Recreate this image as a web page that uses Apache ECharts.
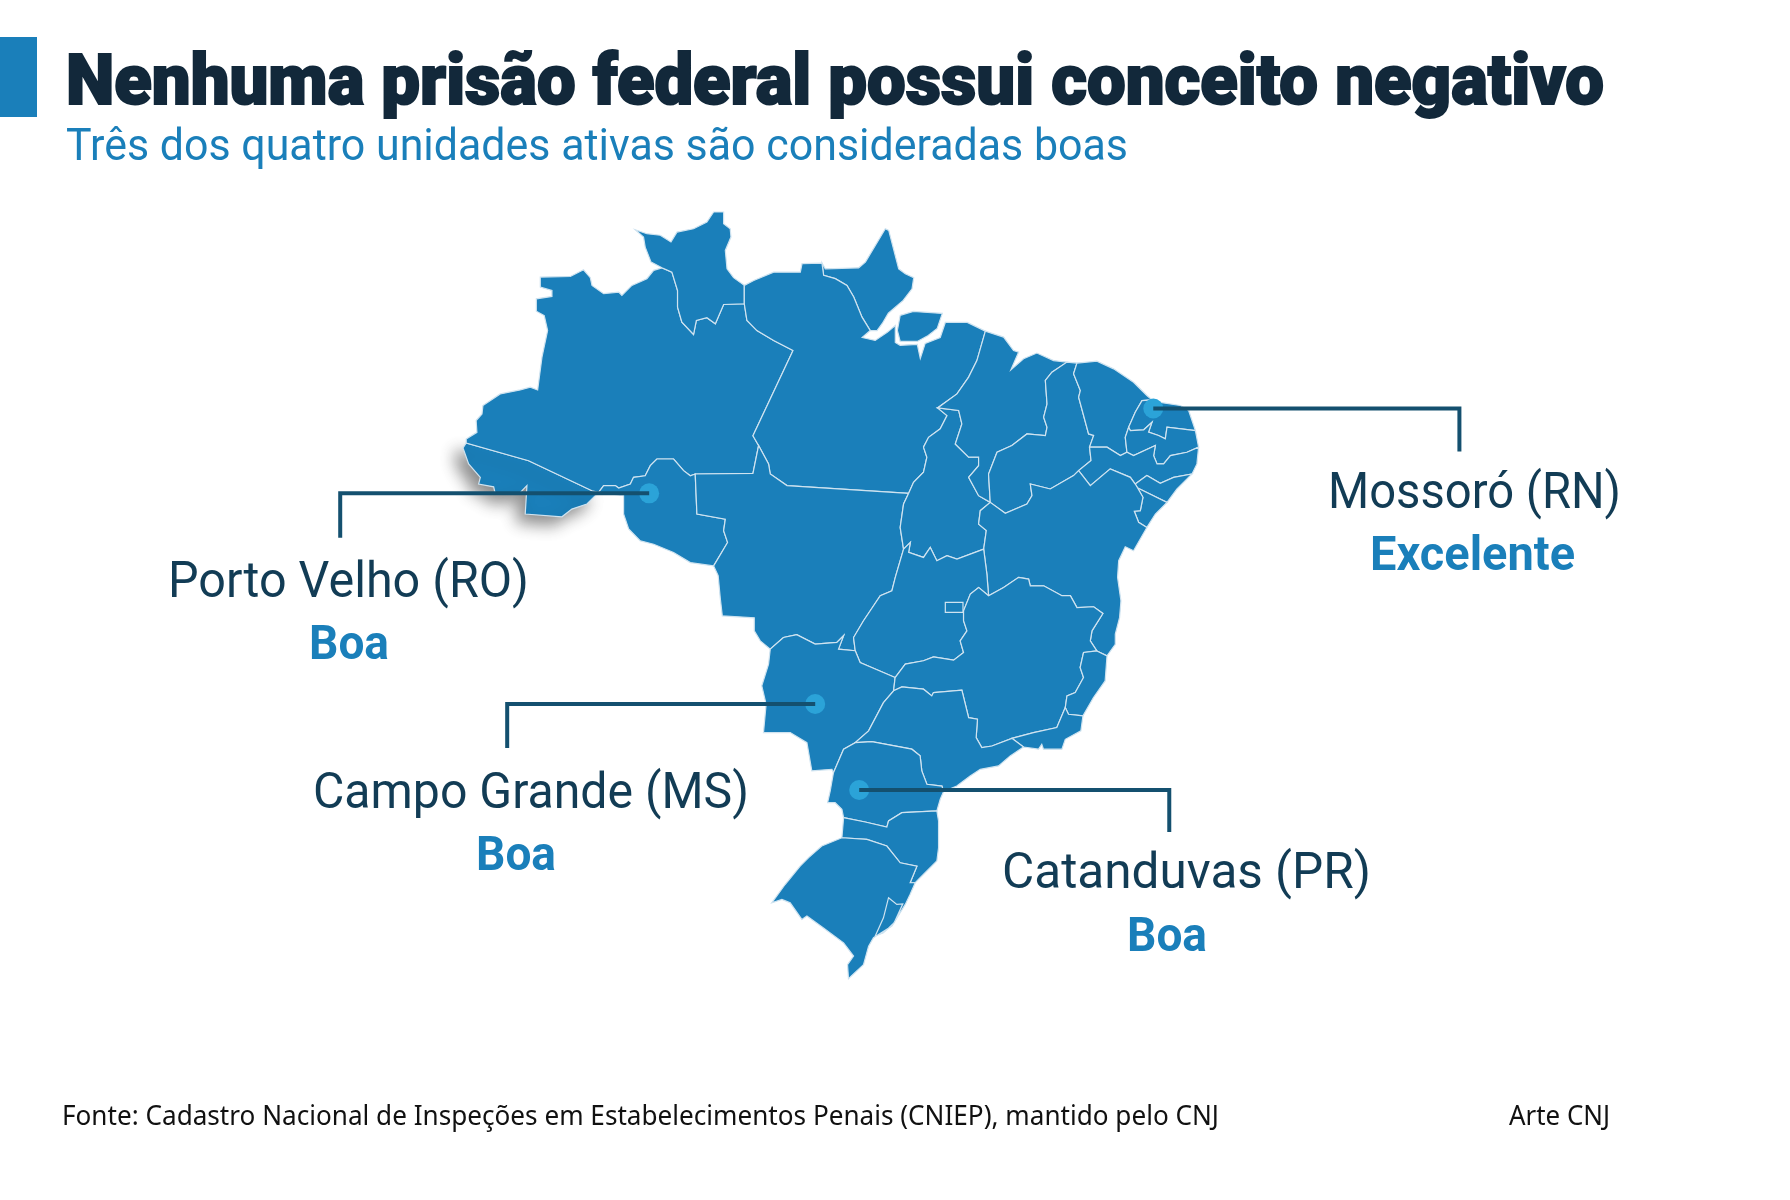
<!DOCTYPE html>
<html>
<head>
<meta charset="utf-8">
<title>Nenhuma prisão federal possui conceito negativo</title>
<script src="https://cdn.jsdelivr.net/npm/echarts@6/dist/echarts.min.js"></script>
<style>
html, body { margin: 0; padding: 0; background: #fff; }
#chart { width: 1790px; height: 1200px; }
</style>
</head>
<body>
<div id="chart"></div>
<script>
// texts
const titleText = 'Nenhuma prisão federal possui conceito negativo';
const subtitleText = 'Três dos quatro unidades ativas são consideradas boas';
const sourceText = 'Fonte: Cadastro Nacional de Inspeções em Estabelecimentos Penais (CNIEP), mantido pelo CNJ';
const creditText = 'Arte CNJ';

// the four prisons
const prisonNames = ['Porto Velho (RO)', 'Campo Grande (MS)', 'Catanduvas (PR)', 'Mossoró (RN)'];
const prisonRatings = ['Boa', 'Boa', 'Boa', 'Excelente'];
const prisonCoords = [[-64.11, -9.13], [-55.28, -19.81], [-52.94, -24.17], [-37.30, -4.83]];
const elbowLons = [-80.54, -71.66, -36.45, -21.02];
const lineEndLats = [-11.38, -22.04, -26.30, -7.01];

// shared borders, lon/lat, so neighbouring states use the same line
const borders = {
  acAm: [[-73.84,-6.58],[-70.52,-7.48],[-67.15,-9.00],[-66.80,-9.08]],
  acFront: [[-73.84,-6.58],[-74.01,-6.83],[-73.71,-7.64],[-73.09,-8.32],[-73.18,-8.66],[-72.38,-8.80],[-72.29,-9.17],[-71.05,-9.17],[-70.61,-8.74],[-70.70,-10.18],[-68.75,-10.32],[-68.22,-9.93],[-67.42,-9.67],[-66.80,-9.08]],
  amNorth: [[-73.84,-6.58],[-73.84,-6.38],[-73.27,-6.04],[-73.31,-5.44],[-73.00,-5.11],[-72.95,-4.68],[-72.03,-4.09],[-70.97,-3.89],[-70.43,-3.75],[-70.04,-3.89],[-69.81,-2.23],[-69.51,-0.88],[-69.69,-0.12],[-70.11,0.10],[-70.11,0.73],[-69.28,0.85],[-69.28,1.15],[-69.90,1.32],[-69.90,1.83],[-68.30,1.86],[-67.60,2.20],[-67.24,1.80],[-67.15,1.41],[-66.53,0.99],[-65.73,1.07],[-65.56,0.90],[-65.03,1.41],[-64.23,1.75],[-63.87,2.17],[-63.43,2.30]],
  amRo: [[-66.80,-9.08],[-66.53,-8.74],[-65.91,-8.74],[-65.73,-8.86],[-65.11,-8.66],[-64.94,-8.32],[-64.32,-8.24],[-64.05,-7.73],[-63.70,-7.39],[-62.81,-7.39],[-62.28,-7.98],[-61.92,-8.24],[-61.66,-8.15]],
  roFront: [[-66.80,-9.08],[-65.47,-9.25],[-65.47,-10.18],[-65.20,-10.94],[-64.58,-11.54],[-63.87,-11.71],[-62.81,-12.13],[-61.92,-12.64],[-60.68,-12.81]],
  roMt: [[-61.66,-8.15],[-61.57,-10.18],[-60.06,-10.44],[-60.15,-11.03],[-59.94,-11.62],[-60.68,-12.81]],
  amMt: [[-61.66,-8.15],[-58.59,-8.12],[-58.29,-6.71]],
  amPa: [[-58.29,-6.71],[-58.59,-6.21],[-56.46,-1.89],[-57.49,-1.38],[-58.38,-0.88],[-58.91,-0.37],[-59.05,0.48]],
  amRr: [[-59.05,0.48],[-60.15,0.44],[-60.59,-0.54],[-61.04,-0.23],[-61.60,-0.37],[-61.75,-1.08],[-62.37,-0.45],[-62.60,0.31],[-62.60,1.15],[-62.90,2.08],[-63.43,2.30]],
  rrFront: [[-63.43,2.30],[-64.01,2.59],[-64.32,3.35],[-64.41,3.86],[-64.85,4.23],[-64.23,4.03],[-63.52,3.95],[-62.95,3.61],[-62.63,4.11],[-61.75,4.28],[-61.04,4.62],[-60.68,5.13],[-60.15,5.13],[-60.15,4.54],[-59.80,4.28],[-59.76,3.86],[-60.06,3.18],[-59.97,2.25],[-59.62,1.80],[-59.05,1.41]],
  rrPa: [[-59.05,1.41],[-59.05,0.48]],
  paNorth: [[-59.05,1.41],[-58.55,1.66],[-57.49,2.08],[-56.07,2.08],[-55.98,2.51],[-54.92,2.54]],
  apPa: [[-54.92,2.54],[-54.83,1.92],[-54.21,1.75],[-53.59,1.41],[-53.23,0.82],[-52.79,-0.20],[-52.35,-0.88]],
  apFront: [[-54.92,2.54],[-54.74,2.25],[-52.97,2.30],[-52.61,2.59],[-51.55,4.28],[-51.37,4.20],[-50.84,2.25],[-50.49,2.00],[-50.04,1.80],[-50.13,1.24],[-50.60,0.65],[-51.39,0.00],[-51.71,-0.52],[-51.99,-0.88],[-52.35,-0.88]],
  paCoast: [[-52.35,-0.88],[-52.78,-1.23],[-52.09,-1.38],[-51.45,-0.97],[-51.02,-0.62],[-51.02,-1.48],[-50.76,-1.63],[-49.85,-1.58],[-49.69,-2.29],[-49.43,-1.53],[-48.63,-1.23],[-48.36,-0.47],[-48.10,-0.47],[-47.19,-0.47],[-46.23,-0.91]],
  paMa: [[-46.23,-0.91],[-46.68,-2.40],[-47.12,-3.24],[-47.74,-4.09],[-48.77,-4.80]],
  paTo: [[-48.77,-4.80],[-48.27,-5.19],[-48.63,-5.86],[-49.25,-6.29],[-49.52,-6.79],[-49.34,-7.30],[-49.52,-8.06],[-50.05,-8.57],[-50.31,-9.13]],
  paMt: [[-58.29,-6.71],[-57.76,-7.64],[-57.67,-8.15],[-56.78,-8.74],[-50.31,-9.13]],
  mtTo: [[-50.31,-9.13],[-50.58,-9.67],[-50.76,-10.86],[-50.58,-11.96]],
  mtGo: [[-50.58,-11.96],[-51.02,-13.39],[-51.20,-14.07],[-51.82,-14.32],[-52.71,-15.59],[-53.24,-16.44],[-53.15,-17.11]],
  mtMs: [[-53.15,-17.11],[-54.04,-17.03],[-53.77,-16.35],[-54.13,-16.69],[-55.28,-16.77],[-56.26,-16.30],[-56.97,-16.44],[-57.67,-17.03]],
  mtFront: [[-60.68,-12.81],[-60.44,-13.31],[-60.33,-14.43],[-60.22,-15.34],[-58.52,-15.44],[-58.52,-16.10],[-58.20,-16.61],[-57.67,-17.03]],
  msFront: [[-57.67,-17.03],[-57.76,-17.79],[-58.12,-18.89],[-57.89,-19.82],[-58.03,-21.26],[-56.61,-21.26],[-55.72,-21.77],[-55.46,-23.20],[-54.39,-23.12],[-54.31,-23.29]],
  msPr: [[-54.31,-23.29],[-53.77,-22.10],[-53.15,-21.77]],
  msSp: [[-53.15,-21.77],[-52.44,-21.17],[-51.65,-19.74],[-51.11,-19.14]],
  msMg: [[-51.11,-19.14],[-51.03,-18.47]],
  msGo: [[-53.15,-17.11],[-52.89,-17.71],[-51.03,-18.47]],
  goMg: [[-51.03,-18.47],[-50.49,-17.79],[-49.52,-17.62],[-48.99,-17.42],[-47.92,-17.59],[-47.39,-17.20],[-47.57,-16.61],[-47.21,-16.10],[-47.39,-15.59],[-47.39,-15.09],[-47.03,-14.24],[-46.59,-13.90],[-46.06,-14.32]],
  goBa: [[-46.06,-14.32],[-46.15,-13.22],[-46.32,-11.96]],
  toGo: [[-50.58,-11.96],[-50.22,-11.62],[-50.31,-12.12],[-49.52,-12.38],[-49.16,-11.87],[-48.81,-12.55],[-48.27,-12.29],[-47.74,-12.46],[-46.32,-11.96]],
  toBa: [[-46.32,-11.96],[-46.18,-11.02],[-46.59,-10.69],[-46.50,-10.01],[-45.97,-9.59]],
  toMa: [[-45.97,-9.59],[-46.59,-9.25],[-47.12,-8.32],[-46.59,-7.73],[-46.59,-7.30],[-47.12,-7.30],[-47.83,-6.63],[-47.48,-5.61],[-47.65,-4.93],[-48.77,-4.80]],
  maCoast: [[-46.23,-0.91],[-45.26,-1.21],[-44.73,-1.89],[-44.46,-1.97],[-44.87,-2.87],[-44.20,-2.31],[-43.49,-2.02],[-42.60,-2.40],[-41.89,-2.48]],
  maPi: [[-45.97,-9.59],[-46.06,-8.15],[-45.61,-7.05],[-44.82,-6.71],[-44.02,-6.12],[-43.04,-6.20],[-42.95,-5.78],[-43.13,-5.27],[-42.95,-4.60],[-43.04,-3.41],[-42.69,-2.99],[-41.89,-2.48]],
  piCoast: [[-41.89,-2.48],[-41.36,-2.53]],
  piCe: [[-41.36,-2.53],[-41.54,-3.07],[-41.18,-3.92],[-41.27,-4.26],[-40.74,-6.12],[-40.47,-6.20],[-40.69,-6.79]],
  piPe: [[-40.69,-6.79],[-40.61,-7.47],[-41.27,-7.98]],
  piBa: [[-45.97,-9.59],[-45.17,-10.14],[-44.02,-9.67],[-43.75,-9.25],[-43.84,-8.66],[-42.78,-8.91],[-41.54,-8.23],[-41.27,-7.98]],
  cePe: [[-40.69,-6.79],[-39.76,-6.79],[-39.05,-7.22],[-38.70,-7.05]],
  cePb: [[-38.70,-7.05],[-38.79,-6.29],[-38.61,-5.78]],
  ceRn: [[-38.61,-5.78],[-38.26,-5.02],[-37.90,-4.43],[-37.37,-4.39]],
  ceCoast: [[-41.36,-2.53],[-40.30,-2.43],[-39.41,-2.82],[-38.35,-3.50],[-37.64,-4.17],[-37.37,-4.39]],
  rnPb: [[-38.61,-5.78],[-38.52,-5.95],[-37.81,-5.91],[-37.37,-5.53],[-37.55,-6.03],[-37.02,-6.20],[-36.66,-6.37],[-36.57,-5.78],[-35.06,-5.95]],
  rnCoast: [[-37.37,-4.39],[-37.01,-4.51],[-35.86,-4.68],[-35.42,-4.93],[-35.06,-5.95]],
  pbCoast: [[-35.06,-5.95],[-34.89,-6.79]],
  pbPe: [[-38.70,-7.05],[-38.35,-7.22],[-37.19,-6.71],[-37.28,-7.22],[-37.10,-7.64],[-36.75,-7.64],[-36.39,-7.22],[-35.51,-7.05],[-34.89,-6.79]],
  peCoast: [[-34.89,-6.79],[-34.98,-7.64],[-35.24,-8.15]],
  peAl: [[-38.26,-8.66],[-37.64,-8.23],[-36.93,-8.62],[-36.22,-8.32],[-35.24,-8.15]],
  peBa: [[-41.27,-7.98],[-40.65,-8.74],[-39.59,-7.89],[-38.52,-8.32],[-38.26,-8.66]],
  alCoast: [[-35.24,-8.15],[-36.04,-8.91],[-36.57,-9.59]],
  alBa: [[-38.26,-8.66],[-38.13,-8.86]],
  alSe: [[-38.13,-8.86],[-36.57,-9.59]],
  baSe: [[-38.13,-8.86],[-37.85,-9.33],[-37.99,-10.01],[-38.31,-10.04],[-38.08,-10.60],[-37.64,-10.86]],
  seCoast: [[-36.57,-9.59],[-37.19,-10.18],[-37.64,-10.86]],
  baCoast: [[-37.64,-10.86],[-38.35,-12.04],[-38.79,-11.84],[-39.14,-12.55],[-39.20,-13.39],[-39.02,-14.58],[-39.09,-15.42],[-39.32,-16.27],[-39.32,-16.78],[-39.76,-17.37]],
  mgBa: [[-46.06,-14.32],[-45.26,-13.90],[-44.46,-13.39],[-43.93,-13.48],[-43.84,-13.82],[-43.13,-13.82],[-42.16,-14.32],[-41.71,-14.32],[-41.36,-14.92],[-40.47,-14.88],[-39.98,-15.22],[-40.56,-16.10],[-40.65,-16.61],[-40.30,-17.12]],
  baEs: [[-40.30,-17.12],[-39.76,-17.37]],
  esMg: [[-40.30,-17.12],[-41.01,-17.20],[-41.19,-17.96],[-41.01,-18.47],[-41.45,-19.23],[-41.89,-19.40],[-41.98,-19.99]],
  esCoast: [[-39.76,-17.37],[-39.86,-18.64],[-40.48,-19.48],[-41.04,-20.41]],
  esRj: [[-41.98,-19.99],[-41.81,-20.33],[-41.04,-20.41]],
  rjCoast: [[-41.04,-20.41],[-41.15,-21.17],[-41.98,-21.60],[-42.16,-22.10],[-43.14,-22.10],[-43.23,-21.85],[-43.40,-22.10],[-44.20,-21.99]],
  mgRj: [[-41.98,-19.99],[-42.43,-21.00],[-43.67,-21.26],[-44.82,-21.55]],
  rjSp: [[-44.82,-21.55],[-44.20,-21.99]],
  mgSp: [[-51.11,-19.14],[-50.67,-18.94],[-49.52,-19.06],[-49.08,-19.40],[-48.99,-19.23],[-47.48,-19.11],[-47.12,-20.50],[-46.65,-20.58],[-46.72,-21.51],[-46.42,-22.02],[-45.88,-21.94],[-44.82,-21.55]],
  spPr: [[-53.15,-21.77],[-52.27,-21.72],[-50.14,-22.10],[-49.70,-22.44],[-49.61,-23.20],[-49.34,-23.88],[-48.54,-23.97],[-48.45,-24.25]],
  spCoast: [[-44.20,-21.99],[-44.91,-22.44],[-45.53,-22.95],[-46.50,-23.12],[-47.04,-23.46],[-47.75,-23.97],[-48.45,-24.25]],
  prCoast: [[-48.45,-24.25],[-48.63,-24.64],[-48.81,-25.23]],
  prSc: [[-53.77,-25.57],[-52.62,-25.79],[-51.47,-26.05],[-51.38,-25.74],[-50.67,-25.32],[-48.81,-25.23]],
  prWest: [[-54.31,-23.29],[-54.48,-24.22],[-54.62,-24.81],[-54.22,-24.81],[-53.86,-25.15],[-53.77,-25.57]],
  scWest: [[-53.77,-25.57],[-53.86,-26.59]],
  scCoast: [[-48.81,-25.23],[-48.72,-25.74],[-48.72,-27.10],[-48.81,-27.77],[-49.70,-28.62],[-49.96,-28.87]],
  scRs: [[-53.86,-26.59],[-52.53,-26.67],[-51.47,-27.01],[-50.76,-27.86],[-49.87,-28.03],[-50.23,-28.87],[-49.96,-28.87]],
  rsCoast: [[-49.96,-28.87],[-50.23,-29.46],[-50.49,-29.97],[-51.20,-31.07],[-52.18,-31.66],[-52.44,-32.09],[-52.71,-33.02],[-53.51,-33.73],[-53.56,-33.02],[-53.24,-32.59],[-53.77,-31.92],[-54.84,-31.16],[-55.72,-30.56],[-55.99,-30.73],[-56.61,-29.89],[-57.05,-29.72],[-57.59,-29.89],[-56.88,-28.96],[-56.08,-28.03],[-55.63,-27.60],[-54.93,-27.01],[-53.86,-26.59]]
};

// a leading minus walks the border backwards
const states = {
  AC: ['acAm', '-acFront'],
  AM: ['amNorth', '-amRr', '-amPa', '-amMt', '-amRo', '-acAm'],
  RO: ['amRo', 'roMt', '-roFront'],
  RR: ['rrFront', 'rrPa', 'amRr'],
  AP: ['apFront', '-apPa'],
  PA: ['paNorth', 'apPa', 'paCoast', 'paMa', 'paTo', '-paMt', 'amPa', '-rrPa'],
  MT: ['amMt', 'paMt', 'mtTo', 'mtGo', 'mtMs', '-mtFront', '-roMt'],
  TO: ['-paTo', '-toMa', '-toBa', '-toGo', '-mtTo'],
  MA: ['maCoast', '-maPi', 'toMa', '-paMa'],
  PI: ['piCoast', 'piCe', 'piPe', '-piBa', 'maPi'],
  CE: ['ceCoast', '-ceRn', '-cePb', '-cePe', '-piCe'],
  RN: ['rnCoast', '-rnPb', 'ceRn'],
  PB: ['rnPb', 'pbCoast', '-pbPe', 'cePb'],
  PE: ['cePe', 'pbPe', 'peCoast', '-peAl', '-peBa', '-piPe'],
  AL: ['peAl', 'alCoast', '-alSe', '-alBa'],
  SE: ['alSe', 'seCoast', '-baSe'],
  BA: ['piBa', 'peBa', 'alBa', 'baSe', 'baCoast', '-baEs', '-mgBa', 'goBa', 'toBa'],
  GO: ['toGo', '-goBa', '-goMg', '-msGo', '-mtGo'],
  MS: ['msGo', '-msMg', '-msSp', '-msPr', '-msFront', '-mtMs'],
  MG: ['goMg', 'mgBa', 'esMg', 'mgRj', '-mgSp', 'msMg'],
  ES: ['baEs', 'esCoast', '-esRj', '-esMg'],
  RJ: ['esRj', 'rjCoast', '-rjSp', '-mgRj'],
  SP: ['mgSp', 'rjSp', 'spCoast', '-spPr', 'msSp'],
  PR: ['spPr', 'prCoast', '-prSc', '-prWest', 'msPr'],
  SC: ['prSc', 'scCoast', '-scRs', '-scWest'],
  RS: ['scRs', 'rsCoast']
};
const marajo = [[-50.76,-0.11],[-50.06,0.09],[-48.52,-0.01],[-48.79,-0.77],[-49.27,-1.13],[-49.85,-1.43],[-50.76,-1.43],[-50.91,-0.87],[-50.76,-0.11]];
const lagoaDosPatos = [[-51.38,-29.63],[-50.94,-29.97],[-50.62,-29.94],[-51.08,-30.90],[-51.65,-31.41],[-52.09,-31.58],[-51.65,-30.65],[-51.38,-29.63]];
const distritoFederal = [[-48.36,-14.66],[-47.42,-14.66],[-47.42,-15.17],[-48.36,-15.17],[-48.36,-14.66]];

function buildRing(parts) {
  let ring = [];
  parts.forEach(part => {
    const reversed = part[0] === '-';
    const line = borders[reversed ? part.slice(1) : part];
    ring = ring.concat(reversed ? line.slice().reverse() : line);
  });
  ring.push(ring[0]);
  return ring;
}

const features = Object.keys(states).map(name => {
  let geometry = {type: 'Polygon', coordinates: [buildRing(states[name])]};
  if(name === 'PA') {
    geometry = {type: 'MultiPolygon', coordinates: [[buildRing(states[name])], [marajo]]};
  }
  if(name === 'RS') {
    geometry.coordinates.push(lagoaDosPatos);
  }
  return {type: 'Feature', properties: {name: name}, geometry: geometry};
});
features.push({type: 'Feature', properties: {name: 'DF'}, geometry: {type: 'Polygon', coordinates: [distritoFederal]}});

echarts.registerMap('brasil', {type: 'FeatureCollection', features: features});

const chart = echarts.init(document.getElementById('chart'));

// squeeze a text into the x range it takes in the picture
const measure = document.createElement('canvas').getContext('2d');
function fittedText(text, left, right, baseline, font, size, color, stroke) {
  measure.font = font;
  return {
    type: 'text',
    x: left,
    y: baseline - size * 0.26,
    scaleX: (right - left) / measure.measureText(text).width,
    silent: true,
    style: {
      text: text,
      x: 0,
      y: 0,
      font: font,
      fill: color,
      stroke: stroke ? color : null,
      lineWidth: stroke || 0,
      align: 'left',
      verticalAlign: 'middle'
    }
  };
}

const nameFont = '400 50px Roboto';
const ratingFont = '700 49px Roboto';
const nameBoxes = [[168, 529, 597], [313, 749, 808], [1002, 1371, 888], [1328, 1621, 508]];
const ratingBoxes = [[309, 389, 659], [476, 556, 870], [1127, 1207, 951], [1370, 1575, 570]];

const graphics = [
  {type: 'rect', silent: true, shape: {x: 0, y: 37, width: 37, height: 80}, style: {fill: '#1a7fba'}},
  fittedText(titleText, 66, 1604, 105, '900 70px Roboto', 70, '#12283a', 2),
  fittedText(subtitleText, 66, 1128, 160, '400 44px Roboto', 44, '#1a7fba'),
  fittedText(sourceText, 62, 1219, 1124.5, '400 28px "Noto Sans"', 28, '#111111'),
  fittedText(creditText, 1509, 1610, 1124.5, '400 28px "Noto Sans"', 28, '#111111')
];
prisonNames.forEach((name, i) => {
  const box = nameBoxes[i];
  graphics.push(fittedText(name, box[0], box[1], box[2], nameFont, 50, '#123c55'));
});
prisonRatings.forEach((rating, i) => {
  const box = ratingBoxes[i];
  graphics.push(fittedText(rating, box[0], box[1], box[2], ratingFont, 49, '#1a7fba'));
});

const options = {
  animation: false,
  backgroundColor: '#ffffff',
  graphic: graphics,
  geo: {
    map: 'brasil',
    roam: false,
    silent: true,
    aspectScale: 0.9543,
    left: 463,
    top: 212,
    width: 735.6,
    height: 766.6,
    label: {show: false},
    itemStyle: {
      areaColor: '#1a7fba',
      borderColor: '#cfe3f0',
      borderWidth: 1.2
    },
    regions: [{
      name: 'AC',
      itemStyle: {
        areaColor: '#1a7fba',
        borderColor: '#cfe3f0',
        borderWidth: 1.2,
        shadowColor: 'rgba(0, 0, 0, 0.45)',
        shadowBlur: 16,
        shadowOffsetX: -8,
        shadowOffsetY: 8
      }
    }]
  },
  series: [
    {
      type: 'scatter',
      coordinateSystem: 'geo',
      silent: true,
      z: 3,
      symbolSize: 20,
      itemStyle: {color: '#2ba3d8', opacity: 1},
      data: prisonCoords
    },
    {
      type: 'lines',
      coordinateSystem: 'geo',
      polyline: true,
      silent: true,
      z: 4,
      lineStyle: {color: '#14506f', width: 4, opacity: 1},
      data: prisonCoords.map((coord, i) => ({
        coords: [coord, [elbowLons[i], coord[1]], [elbowLons[i], lineEndLats[i]]]
      }))
    }
  ]
};

chart.setOption(options);
</script>
</body>
</html>
